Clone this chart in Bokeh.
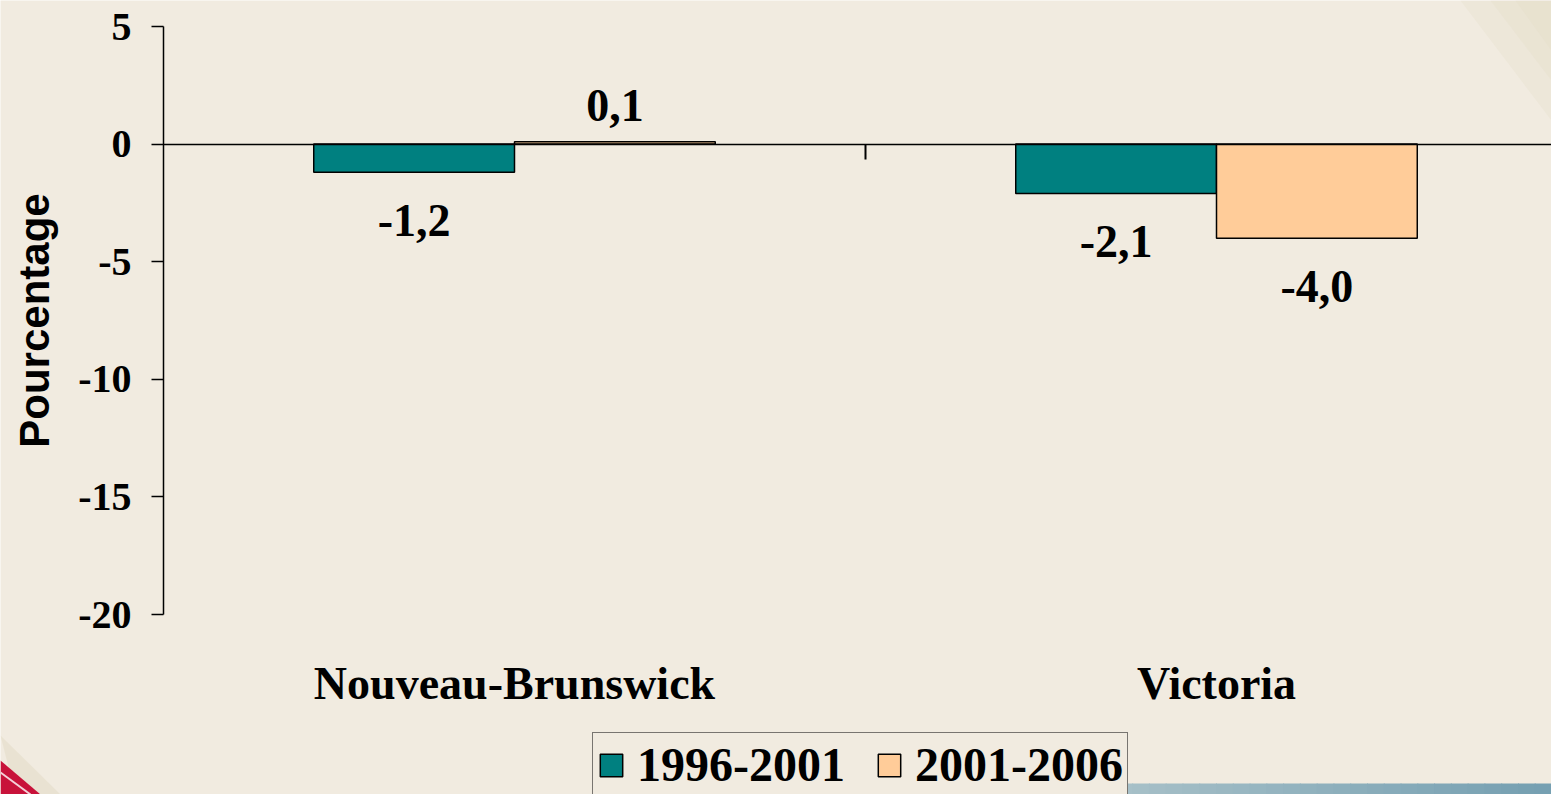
import math
from bokeh.plotting import figure
from bokeh.models import Range1d, FixedTicker, Legend, LegendItem, ColumnDataSource
from bokeh.core.properties import value
from bokeh.embed import file_html
from bokeh.resources import INLINE

# ---- data ----
categories = ["Nouveau-Brunswick", "Victoria"]
series_names = ["1996-2001", "2001-2006"]
values_1996_2001 = [-1.2, -2.1]
values_2001_2006 = [0.1, -4.0]
y_ticks = [5, 0, -5, -10, -15, -20]
y_axis_title = "Pourcentage"

# ---- style / geometry ----
BG = "#F1EBE0"
COLORS = ["#008080", "#FFCC99"]
SERIF = "Liberation Serif"
SANS = "Liberation Sans"

W, H = 1551, 794
AXIS_PX = 163          # pixel column of the value axis
CAT_PX = 702.0         # pixels per category
TOP_PX = 26            # pixel row of the top tick
PX_PER_UNIT = 23.52

y_max, y_min = max(y_ticks), min(y_ticks)
x_start = -AXIS_PX / CAT_PX
x_end = (W - AXIS_PX) / CAT_PX
y_end = y_max + TOP_PX / PX_PER_UNIT
y_start = y_max - (H - TOP_PX) / PX_PER_UNIT


def px2x(px):
    return (px - AXIS_PX) / CAT_PX


def px2y(py):
    return y_max - (py - TOP_PX) / PX_PER_UNIT


p = figure(width=W, height=H, output_backend="svg", toolbar_location=None,
           x_range=Range1d(x_start, x_end), y_range=Range1d(y_start, y_end),
           min_border=0, min_border_left=0, min_border_right=0,
           min_border_top=0, min_border_bottom=0,
           background_fill_color=BG, border_fill_color=BG, outline_line_color=None)
p.grid.visible = False

# ---- background decorations ----
n_steps = 40
band_x0, band_x1 = 880, W
band_y0, band_y1 = 783, H
c0 = (241, 235, 224)
c1 = (176, 198, 204)
c2 = (118, 160, 178)
qs = dict(left=[], right=[], top=[], bottom=[], color=[])
for k in range(n_steps):
    t = k / (n_steps - 1)
    if t < 0.25:
        u = t / 0.25
        c = tuple(int(c0[j] + (c1[j] - c0[j]) * u) for j in range(3))
    else:
        u = (t - 0.25) / 0.75
        c = tuple(int(c1[j] + (c2[j] - c1[j]) * u) for j in range(3))
    xa_ = band_x0 + (band_x1 - band_x0) * k / n_steps
    xb_ = band_x0 + (band_x1 - band_x0) * (k + 1) / n_steps + 1
    qs["left"].append(px2x(xa_)); qs["right"].append(px2x(xb_))
    qs["top"].append(px2y(band_y0)); qs["bottom"].append(px2y(band_y1))
    qs["color"].append("#%02x%02x%02x" % c)
p.quad(left="left", right="right", top="top", bottom="bottom", color="color",
       source=ColumnDataSource(qs), line_color=None)
p.patch(x=[px2x(0), px2x(60), px2x(15)], y=[px2y(735), px2y(H), px2y(H)],
        fill_color="#E4DCC8", fill_alpha=0.6, line_color=None)
p.patch(x=[px2x(0), px2x(40), px2x(0)], y=[px2y(760), px2y(H), px2y(H)],
        fill_color="#C8123A", line_color=None)
p.line(x=[px2x(0), px2x(30)], y=[px2y(772), px2y(H)], line_color="#F4D0D8", line_width=2)
# faint soft shading in the top-right corner
for x0s, y1s in [(1460, 120), (1490, 80), (1515, 50)]:
    p.patch(x=[px2x(x0s), px2x(W), px2x(W)], y=[px2y(0), px2y(0), px2y(y1s)],
            fill_color="#E3DAC4", fill_alpha=0.25, line_color=None)

# ---- bars ----
bar_w = 0.286
offsets = [-bar_w / 2, bar_w / 2]
renderers = []
all_x, all_v = [], []
for vals, col, off in zip([values_1996_2001, values_2001_2006], COLORS, offsets):
    xs = [i + 0.5 + off for i in range(len(categories))]
    src = ColumnDataSource(dict(x=xs, top=vals))
    r = p.vbar(x="x", top="top", bottom=0, width=bar_w, source=src,
               fill_color=col, line_color="black", line_width=1.5)
    renderers.append(r)
    all_x += xs
    all_v += vals

# data labels
lab_src = ColumnDataSource(dict(
    x=all_x, y=all_v,
    t=[f"{v:.1f}".replace(".", ",") for v in all_v],
    yo=[48 if v < 0 else -36 for v in all_v]))
p.text(x="x", y="y", text="t", y_offset="yo", source=lab_src,
       text_font=value(SERIF), text_font_style="bold", text_font_size="46px",
       text_align="center", text_baseline="middle", text_color="black")

# category labels (below the plot area)
p.text(x=[i + 0.5 for i in range(len(categories))], y=[y_min] * len(categories),
       text=categories, y_offset=69,
       text_font=value(SERIF), text_font_style="bold", text_font_size="46px",
       text_align="center", text_baseline="middle", text_color="black")

# y axis title
p.text(x=[0], y=[(y_max + y_min) / 2], text=[y_axis_title], x_offset=-129.5,
       angle=math.pi / 2, text_font=value(SANS), text_font_style="bold",
       text_font_size="42px", text_align="center", text_baseline="middle",
       text_color="black")

# ---- y axis (fixed at the left edge of the category area) ----
ya = p.yaxis[0]
ya.fixed_location = 0
ya.bounds = (y_min, y_max)
ya.ticker = FixedTicker(ticks=y_ticks)
ya.major_label_overrides = {float(t): str(t) for t in y_ticks}
ya.axis_line_color = "black"
ya.axis_line_width = 1.5
ya.major_tick_line_color = "black"
ya.major_tick_line_width = 1.5
ya.major_tick_out = 12
ya.major_tick_in = 0
ya.minor_tick_line_color = None
ya.major_label_standoff = 20
ya.major_label_text_font = SERIF
ya.major_label_text_font_style = "bold"
ya.major_label_text_font_size = "40px"
ya.major_label_text_color = "black"

# ---- x axis at zero, with ticks between categories ----
xa = p.xaxis[0]
xa.fixed_location = 0
xa.bounds = (0, len(categories))
xa.ticker = FixedTicker(ticks=list(range(1, len(categories))))
xa.axis_line_color = "black"
xa.axis_line_width = 1.5
xa.major_tick_line_color = "black"
xa.major_tick_line_width = 2
xa.major_tick_out = 15
xa.major_tick_in = 0
xa.minor_tick_line_color = None
xa.major_label_text_font_size = "0px"
xa.major_label_text_alpha = 0

# ---- legend ----
legend = Legend(items=[LegendItem(label=n, renderers=[r]) for n, r in zip(series_names, renderers)],
                orientation="horizontal", location=(592, -3),
                label_text_font=SERIF, label_text_font_style="bold",
                label_text_font_size="48px", label_text_color="black",
                label_height=48, glyph_width=28, glyph_height=28,
                label_standoff=12, spacing=30,
                padding=4, margin=0, border_line_color="black", border_line_width=1.5,
                background_fill_color=BG, background_fill_alpha=1.0)
p.add_layout(legend, "center")

open("out.html", "w").write(file_html(p, INLINE))
